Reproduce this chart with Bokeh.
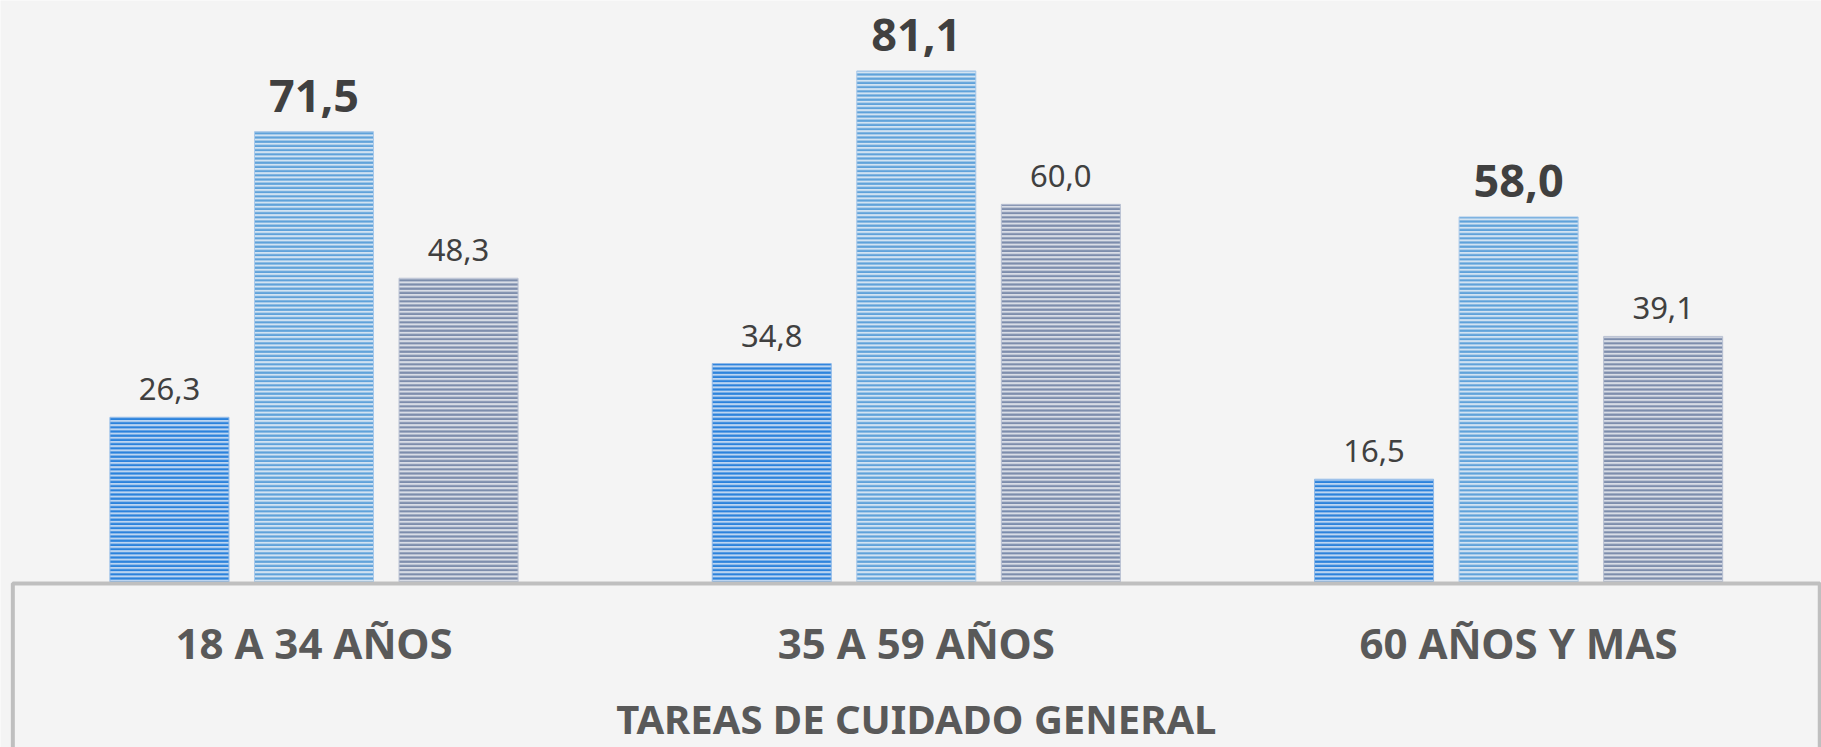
from bokeh.plotting import figure
from bokeh.models import ColumnDataSource, Range1d
from bokeh.transform import dodge
from bokeh.core.properties import value
from bokeh.embed import file_html
from bokeh.resources import INLINE

# ---- data ----
categories = ["18 A 34 AÑOS", "35 A 59 AÑOS", "60 AÑOS Y MAS"]
hombres = [26.3, 34.8, 16.5]
mujeres = [71.5, 81.1, 58.0]
total = [48.3, 60.0, 39.1]
axis_title = "TAREAS DE CUIDADO GENERAL"


def fmt(vals):
    return [f"{v:.1f}".replace(".", ",") for v in vals]


idx = list(range(len(categories)))
src = ColumnDataSource(dict(
    idx=idx, cat=categories,
    hombres=hombres, mujeres=mujeres, total=total,
    l_h=fmt(hombres), l_m=fmt(mujeres), l_t=fmt(total),
))

BG = "#f4f4f4"
FONT = value("Noto Sans")

x_start, x_end = -0.5205, 2.5029
p = figure(width=1821, height=747, output_backend="svg", toolbar_location=None,
           x_range=Range1d(x_start, x_end), y_range=Range1d(-25.95, 92.25),
           x_axis_location=None, y_axis_location=None,
           min_border=0, background_fill_color=BG, border_fill_color=BG,
           outline_line_color=None)
p.grid.visible = False

off = 0.24
bw = 0.1976
series = [
    ("hombres", "l_h", -off, "#bcd5f1", "#2b82dc", "#8fb9e8", False),
    ("mujeres", "l_m", 0.0, "#d2e3f2", "#5fa2da", "#a9c9ea", True),
    ("total", "l_t", off, "#d9dde6", "#7d8dac", "#b8c0d2", False),
]

for col, lab, dx, light, dark, edge, bold in series:
    p.vbar(x=dodge("idx", dx), top=col, bottom=0, width=bw, source=src,
           fill_color=light, hatch_pattern="horizontal_line", hatch_color=dark,
           hatch_scale=4.2, hatch_weight=2.2, line_color=edge, line_width=1)
    p.text(x=dodge("idx", dx), y=col, text=lab, source=src,
           text_align="center", text_baseline="alphabetic",
           y_offset=-36 if bold else -28,
           text_font=FONT, text_font_style="bold" if bold else "normal",
           text_font_size="45px" if bold else "31px",
           text_color="#404040")

# category box (axis area)
p.quad(left=-0.5, right=2.5, top=0, bottom=-40,
       fill_color=None, line_color="#bfbfbf", line_width=4)

# category labels
p.text(x="idx", y=0, text="cat", source=src, y_offset=59,
       text_align="center", text_baseline="alphabetic",
       text_font=FONT, text_font_style="bold", text_font_size="42px",
       text_color="#595959")

# axis title
p.text(x=[idx[len(idx) // 2]], y=[0], text=[axis_title], y_offset=135,
       text_align="center", text_baseline="alphabetic",
       text_font=FONT, text_font_style="bold", text_font_size="40px",
       text_color="#595959")

open("out.html", "w").write(file_html(p, INLINE))
